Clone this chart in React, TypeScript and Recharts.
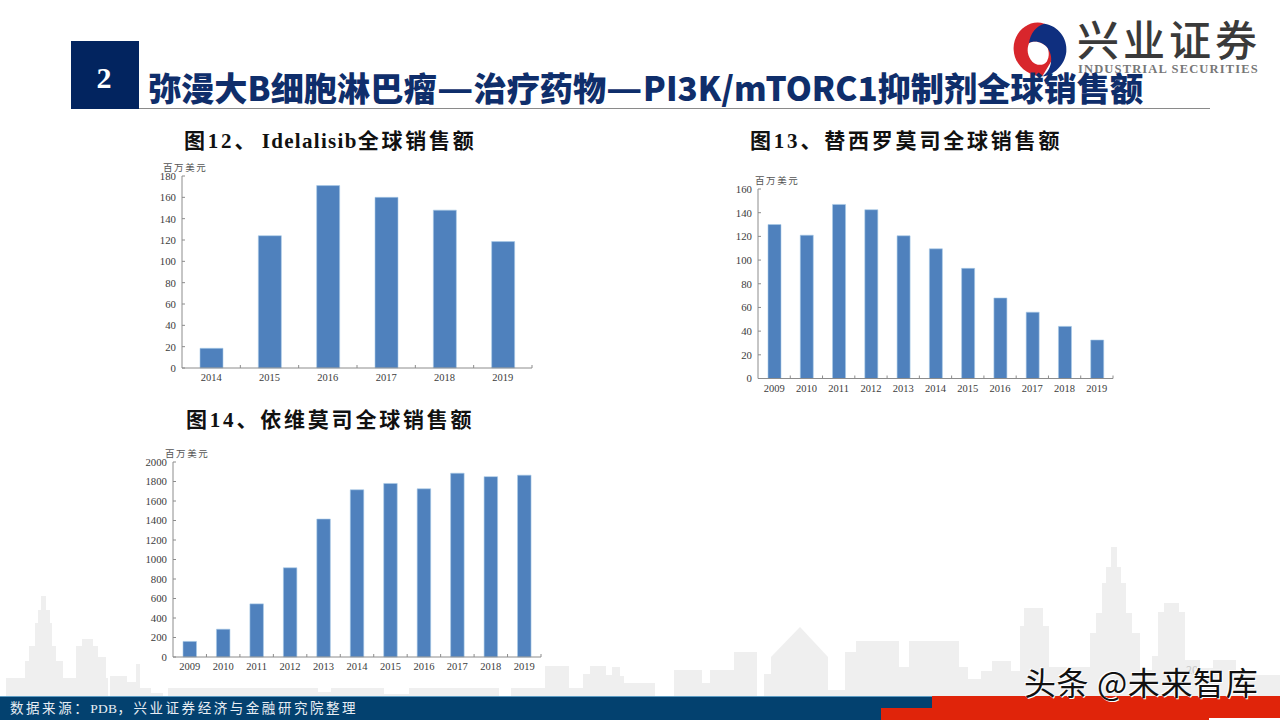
import React from "react";
import { BarChart, Bar, XAxis, YAxis } from "recharts";

const idelalisibYears = ["2014", "2015", "2016", "2017", "2018", "2019"];
const idelalisibSales = [18.5, 124, 171, 160, 148, 118.5];
const idelalisibTicks = [0, 20, 40, 60, 80, 100, 120, 140, 160, 180];

const temsirolimusYears = ["2009", "2010", "2011", "2012", "2013", "2014", "2015", "2016", "2017", "2018", "2019"];
const temsirolimusSales = [130, 121, 147, 142.5, 120.5, 109.5, 93, 68, 56, 44, 32.5];
const temsirolimusTicks = [0, 20, 40, 60, 80, 100, 120, 140, 160];

const everolimusYears = ["2009", "2010", "2011", "2012", "2013", "2014", "2015", "2016", "2017", "2018", "2019"];
const everolimusSales = [160, 285, 545, 915, 1415, 1715, 1780, 1725, 1885, 1850, 1865];
const everolimusTicks = [0, 200, 400, 600, 800, 1000, 1200, 1400, 1600, 1800, 2000];

const SERIF = '"Liberation Serif", "Noto Sans CJK SC", serif';
const SANS = '"Noto Sans CJK SC", sans-serif';
const AXIS = "#8c8c8c";

// decorative skyline: [x1, x2, top]
const skyline = [
  [6, 108, 678], [41, 46, 596], [38, 50, 610], [35, 52, 623], [29, 56, 646], [25, 63, 661],
  [76, 98, 646], [82, 93, 639], [98, 106, 657], [110, 127, 676], [127, 136, 682], [136, 140, 664],
  [140, 151, 688], [151, 163, 693], [168, 318, 688], [318, 331, 692], [331, 384, 688], [384, 409, 694],
  [409, 499, 688], [511, 545, 688], [545, 569, 666], [569, 583, 688], [583, 590, 674], [590, 606, 666],
  [606, 612, 675], [612, 620, 667], [620, 624, 676], [624, 655, 683],
  [674, 702, 670], [702, 710, 683], [710, 734, 670], [734, 757, 652], [764, 771, 674], [771, 828, 657],
  [828, 845, 690], [845, 856, 652], [856, 899, 641], [899, 909, 667], [909, 959, 641], [959, 968, 667],
  [968, 981, 679], [981, 992, 671], [992, 1011, 661], [1011, 1020, 671], [1020, 1049, 626], [1024, 1043, 608],
  [1049, 1090, 667], [1090, 1140, 633], [1096, 1132, 613], [1102, 1126, 583], [1106, 1121, 567], [1111, 1117, 547],
  [1140, 1152, 670], [1152, 1158, 656], [1158, 1185, 612], [1164, 1179, 603], [1185, 1200, 660], [1200, 1213, 668],
  [1213, 1236, 660], [1236, 1280, 675],
];

function XTick(props: any) {
  const { x, y, payload, band, fontSize } = props;
  return (
    <g>
      <line x1={x + band / 2} x2={x + band / 2} y1={y - 3} y2={y} stroke={AXIS} strokeWidth={1} />
      <text x={x} y={y + 13} textAnchor="middle" fontFamily={SERIF} fontSize={fontSize} fill="#3c3c3c">
        {payload.value}
      </text>
    </g>
  );
}

type PanelProps = {
  left: number; right: number; top: number; bottom: number;
  years: string[]; values: number[]; ticks: number[]; max: number; barSize: number; fontSize: number;
};

function Panel({ left, right, top, bottom, years, values, ticks, max, barSize, fontSize }: PanelProps) {
  const yW = 40, mTop = 12, xH = 24, mRight = 6;
  const plotW = right - left;
  const plotH = bottom - top;
  const rows = years.map((year, i) => ({ year, value: values[i] }));
  return (
    <div style={{ position: "absolute", left: left - yW, top: top - mTop }}>
      <BarChart
        width={yW + plotW + mRight}
        height={mTop + plotH + xH}
        data={rows}
        margin={{ top: mTop, right: mRight, bottom: 0, left: 0 }}
        barCategoryGap={0}
      >
        <XAxis
          dataKey="year"
          height={xH}
          interval={0}
          tickSize={0}
          tickMargin={0}
          tickLine={false}
          axisLine={{ stroke: AXIS, strokeWidth: 1 }}
          tick={<XTick band={plotW / years.length} fontSize={fontSize} />}
        />
        <YAxis
          width={yW}
          domain={[0, max]}
          ticks={ticks}
          interval={0}
          tickSize={-3}
          tickMargin={9}
          tickLine={{ stroke: AXIS, strokeWidth: 1 }}
          axisLine={{ stroke: AXIS, strokeWidth: 1 }}
          tick={{ fontFamily: SERIF, fontSize: fontSize + 0.3, fill: "#3c3c3c" }}
        />
        <Bar dataKey="value" fill="#4f81bd" stroke="#a9cbe8" strokeWidth={0.6} barSize={barSize} isAnimationActive={false} />
      </BarChart>
    </div>
  );
}

function Abs({ x, y, style, children }: any) {
  return (
    <div style={{ position: "absolute", left: x, top: y, whiteSpace: "nowrap", lineHeight: 1, ...style }}>{children}</div>
  );
}

const unit = "百万美元";
const chartTitle = { fontFamily: SERIF, fontWeight: 700, fontSize: 21, letterSpacing: 2.8, color: "#111" };
const unitStyle = { fontFamily: SERIF, fontSize: 9.5, letterSpacing: 1.6, color: "#555" };
const dash = { display: "inline-block", transform: "scaleX(1.2)", transformOrigin: "left center", marginRight: 6.5 };

export default function App() {
  return (
    <div style={{ position: "absolute", left: 0, top: 0, width: 1280, height: 720, overflow: "hidden", background: "#fff" }}>
      <svg width={1280} height={720} style={{ position: "absolute", left: 0, top: 0 }}>
        {skyline.map(([a, b, t], i) => (
          <rect key={i} x={a} y={t} width={b - a} height={696 - t} fill="#efefef" />
        ))}
        <polygon points="771,657 800,627 828,657" fill="#efefef" />
        <rect x={0} y={696} width={932} height={24} fill="#03416f" />
        <rect x={0} y={696} width={932} height={1} fill="#5f9cc2" />
        <rect x={932} y={696} width={348} height={24} fill="#e0240a" />
        <rect x={881} y={708} width={51} height={12} fill="#e0240a" />
        <rect x={1209} y={718} width={71} height={2} fill="#fff" />
        <rect x={71} y={41} width={68} height={68} fill="#02245f" />
        <rect x={139} y={108} width={1071} height={1} fill="#8a8a8a" />
        <g transform="translate(1005 15) scale(0.3333)">
          <path d="M118 26 C70 10 22 55 26 105 C28 150 70 185 112 184 L150 120 L118 26Z" fill="#d8262c" />
          <path d="M72 85 C75 55 95 32 118 26 C160 32 188 70 184 110 C180 150 145 182 112 184 C135 172 150 130 128 100 C115 82 90 75 72 85Z" fill="#0f2f7f" />
          <path d="M72 85 C90 75 115 82 128 100 C134 115 131 130 125 140 C112 155 92 150 82 140 C68 125 64 105 72 85Z" fill="#fff" />
        </g>
      </svg>

      <Abs x={1077} y={21} style={{ fontFamily: SERIF, fontWeight: 500, fontSize: 42, letterSpacing: 4, color: "#3a3a3a" }}>兴业证券</Abs>
      <Abs x={1078} y={63} style={{ fontFamily: SERIF, fontWeight: 700, fontSize: 12.5, letterSpacing: 1.15, color: "#777" }}>INDUSTRIAL SECURITIES</Abs>

      <Abs x={96.5} y={63} style={{ fontFamily: SERIF, fontWeight: 700, fontSize: 30, color: "#fff" }}>2</Abs>
      <Abs x={148} y={70} style={{ fontFamily: SANS, fontWeight: 900, fontSize: 33.2, color: "#0f2e6b" }}>
        弥漫大B细胞淋巴瘤<span style={dash}>—</span>治疗药物<span style={dash}>—</span>PI3K/mTORC1抑制剂全球销售额
      </Abs>

      <Abs x={184} y={131} style={chartTitle}>
        图12、<span style={{ letterSpacing: 1.3, marginLeft: -3 }}> Idelalisib</span>全球销售额
      </Abs>
      <Abs x={750} y={131} style={chartTitle}>图13、替西罗莫司全球销售额</Abs>
      <Abs x={186} y={410} style={chartTitle}>图14、依维莫司全球销售额</Abs>

      <Abs x={163} y={164} style={unitStyle}>{unit}</Abs>
      <Abs x={755} y={177} style={unitStyle}>{unit}</Abs>
      <Abs x={165} y={450} style={unitStyle}>{unit}</Abs>

      <Panel left={182} right={532} top={176} bottom={368} years={idelalisibYears} values={idelalisibSales} ticks={idelalisibTicks} max={180} barSize={23} fontSize={10.5} />
      <Panel left={758} right={1113} top={188.5} bottom={378} years={temsirolimusYears} values={temsirolimusSales} ticks={temsirolimusTicks} max={160} barSize={13} fontSize={10.5} />
      <Panel left={173} right={541} top={461.5} bottom={656.5} years={everolimusYears} values={everolimusSales} ticks={everolimusTicks} max={2000} barSize={13.5} fontSize={10.5} />

      <Abs x={10} y={701.5} style={{ fontFamily: SERIF, fontSize: 13.5, letterSpacing: 2.55, color: "#e8eef4" }}>
        数据来源：<span style={{ letterSpacing: 0.3 }}>PDB</span>，兴业证券经济与金融研究院整理
      </Abs>
      <Abs x={1186} y={664} style={{ fontFamily: SANS, fontSize: 11, color: "#c8c8c8" }}>20</Abs>
      <Abs x={1024} y={665} style={{ fontFamily: SANS, fontWeight: 400, fontSize: 32, color: "#111", letterSpacing: 0.6, textShadow: "1px 1px 0 #fff, -1px -1px 0 #fff" }}>头条 @未来智库</Abs>
    </div>
  );
}
